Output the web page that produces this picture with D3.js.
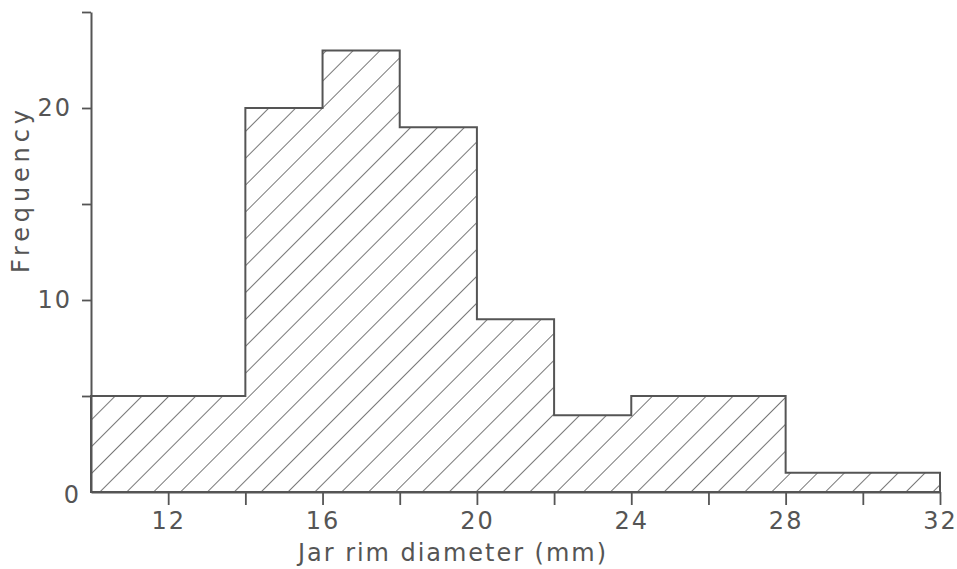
<!DOCTYPE html>
<html>
<head>
<meta charset="utf-8">
<script src="https://cdn.jsdelivr.net/npm/d3@7"></script>
<style>
  body { margin: 0; background: #fff; }
  text { font-family: "DejaVu Sans", sans-serif; fill: #555; }
</style>
</head>
<body>
<div id="plot"></div>
<script>
// histogram data: bin edges (mm) and counts
const binStarts = [10, 12, 14, 16, 18, 20, 22, 24, 26, 28, 30];
const binWidth = 2;
const counts = [5, 5, 20, 23, 19, 9, 4, 5, 5, 1, 1];
const xTicks = [12, 14, 16, 18, 20, 22, 24, 26, 28, 30, 32];
const xLabels = [12, 16, 20, 24, 28, 32];
const yTicks = [5, 10, 15, 20, 25];
const yLabels = [0, 10, 20];

const width = 957, height = 569;
const ink = "#555";

const svg = d3.select("#plot").append("svg")
    .attr("width", width)
    .attr("height", height);

const x = d3.scaleLinear().domain([10, 32]).range([91, 940]);
const y = d3.scaleLinear().domain([0, 25]).range([492, 12]);

// diagonal hatching
const defs = svg.append("defs");
const pat = defs.append("pattern")
    .attr("id", "hatch")
    .attr("patternUnits", "userSpaceOnUse")
    .attr("width", 19)
    .attr("height", 19)
    .attr("patternTransform", "rotate(45)");
pat.append("line")
    .attr("x1", 0).attr("y1", 0)
    .attr("x2", 0).attr("y2", 19)
    .attr("stroke", "#555")
    .attr("stroke-width", 1.6);

// step outline of the histogram
const pts = [[x(binStarts[0]), y(0)]];
binStarts.forEach((b, i) => {
    pts.push([x(b), y(counts[i])]);
    pts.push([x(b + binWidth), y(counts[i])]);
});
pts.push([x(binStarts[binStarts.length - 1] + binWidth), y(0)]);

svg.append("path")
    .attr("d", d3.line()(pts) + "Z")
    .attr("fill", "url(#hatch)")
    .attr("stroke", ink)
    .attr("stroke-width", 2);

// x axis
const xAxis = svg.append("g")
    .attr("transform", `translate(0,${y(0)})`)
    .call(d3.axisBottom(x).tickValues(xTicks).tickSize(13).tickSizeOuter(0)
        .tickFormat(d => xLabels.includes(d) ? d : ""));
xAxis.select(".domain").attr("stroke", ink).attr("stroke-width", 2);
xAxis.selectAll(".tick line").attr("stroke", ink).attr("stroke-width", 1.8);
xAxis.selectAll(".tick text")
    .attr("y", 20)
    .style("font-size", "24px")
    .style("letter-spacing", "2px")
    .attr("fill", ink);

// y axis
const yAxis = svg.append("g")
    .attr("transform", `translate(${x(10)},0)`)
    .call(d3.axisLeft(y).tickValues(yTicks).tickSize(9).tickSizeOuter(0)
        .tickFormat(() => ""));
yAxis.select(".domain").attr("stroke", ink).attr("stroke-width", 2);
yAxis.selectAll(".tick line").attr("stroke", ink).attr("stroke-width", 1.8);

svg.selectAll(".ylab")
    .data(yLabels)
    .enter().append("text")
    .attr("class", "ylab")
    .attr("x", d => d === 0 ? 81 : 72)
    .attr("y", d => y(d) + (d === 0 ? 3 : 0))
    .attr("text-anchor", "end")
    .attr("dominant-baseline", "central")
    .style("font-size", "24px")
    .style("letter-spacing", "2px")
    .text(d => d);

// axis titles
svg.append("text")
    .attr("x", 298)
    .attr("y", 561)
    .attr("textLength", 308)
    .attr("lengthAdjust", "spacing")
    .style("font-size", "24px")
    .text("Jar rim diameter (mm)");

svg.append("text")
    .attr("transform", "translate(29,273) rotate(-90)")
    .attr("textLength", 163)
    .attr("lengthAdjust", "spacing")
    .style("font-size", "24px")
    .text("Frequency");
</script>
</body>
</html>
